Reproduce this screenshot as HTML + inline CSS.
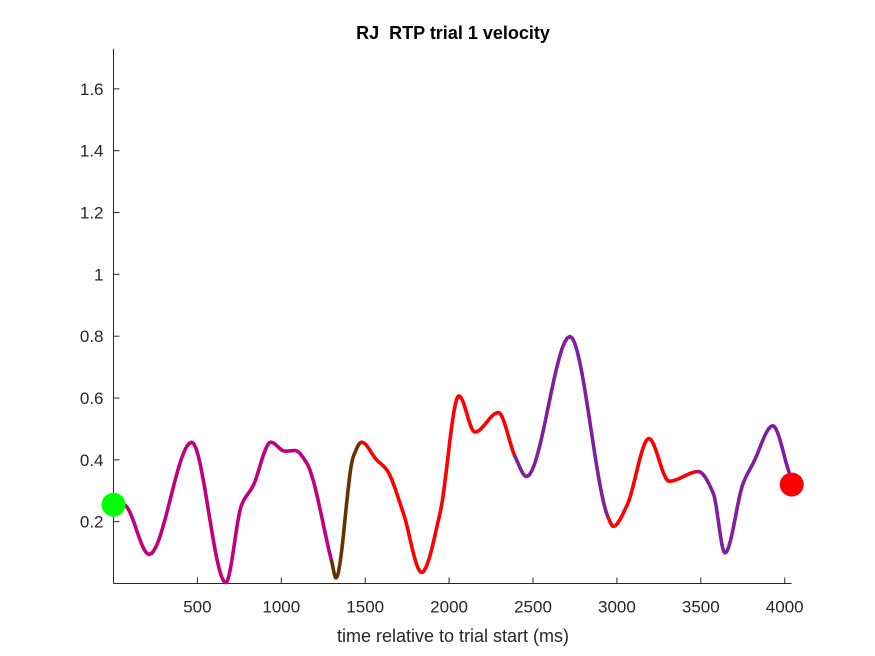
<!DOCTYPE html>
<html><head><meta charset="utf-8"><style>
body{margin:0;background:#fff}
svg{display:block;font-family:"Liberation Sans",sans-serif}
</style></head><body>
<svg id="c" width="875" height="656">
<rect width="875" height="656" fill="#fff"/>
<text x="453" y="39" text-anchor="middle" font-weight="bold" font-size="18" fill="#000" xml:space="preserve">RJ  RTP trial 1 velocity</text>
<text x="453" y="642" text-anchor="middle" font-size="18" fill="#262626">time relative to trial start (ms)</text>
<g id="plot"></g>
</svg>
<script>
const times  = [0,  60, 213, 466, 669, 764, 831, 937, 1022,1082,1151,1300,1326,1429,1479,1568,1628,1727,1836,1946,2058,2154,2293,2393,2462,2720,2949,2979,3058,3191,3311,3485,3574,3644,3753,3813,3929,4027];
const values = [0.255,0.255,0.094,0.457,0.003,0.255,0.315,0.457,0.428,0.43,0.39,0.072,0.018,0.41,0.457,0.40,0.368,0.228,0.036,0.228,0.607,0.49,0.553,0.411,0.346,0.799,0.212,0.185,0.25,0.469,0.331,0.362,0.292,0.099,0.325,0.39,0.51,0.358];
const segStart  = [0, 1300, 1479, 2393, 2949, 3485];
const segColors = ['#C0007F','#663300','#FF0000','#7F1F9F','#FF0000','#7F1F9F'];
const xTicks = [500,1000,1500,2000,2500,3000,3500,4000];
const yTicks = [0.2,0.4,0.6,0.8,1,1.2,1.4,1.6];
const startPoint = [0, 0.255];
const endPoint = [4042, 0.32];

const X0=113.5,X1=791.5,Y0=583.5,Y1=49, xMax=(X1-X0)/0.1678, yMax=1.729;
const sx=t=>X0+t/xMax*(X1-X0);
const sy=v=>Y0-v/yMax*(Y0-Y1);
const NS='http://www.w3.org/2000/svg';
const g=document.getElementById('plot');
function mk(tag,attrs){const e=document.createElementNS(NS,tag);for(const k in attrs)e.setAttribute(k,attrs[k]);g.appendChild(e);return e;}

let e=mk('line',{x1:X0,y1:Y0,x2:X1,y2:Y0,stroke:'#262626','stroke-width':1});


e=mk('line',{x1:X0,y1:Y0,x2:X0,y2:Y1,stroke:'#262626','stroke-width':1});


xTicks.forEach(t=>{
  const x=sx(t);
  let l=mk('line',{x1:x,y1:Y0,x2:x,y2:Y0-6,stroke:'#262626'});
  
  
  let tx=mk('text',{x:x,y:Y0+29,'text-anchor':'middle','font-size':17,fill:'#262626'});
  tx.textContent=t;
  
  
});
yTicks.forEach(v=>{
  const y=sy(v);
  let l=mk('line',{x1:X0,y1:y,x2:X0+6,y2:y,stroke:'#262626'});
  
  
  let tx=mk('text',{x:X0-10,y:y+6,'text-anchor':'end','font-size':17,fill:'#262626'});
  tx.textContent=String(v);
  
  
});

// monotone cubic (Fritsch-Carlson) in data space
const n=times.length, d=[], m=[];
for(let i=0;i<n-1;i++) d.push((values[i+1]-values[i])/(times[i+1]-times[i]));
m[0]=d[0]; m[n-1]=d[n-2];
for(let i=1;i<n-1;i++){
  if(d[i-1]*d[i]<=0) m[i]=0;
  else { const h0=times[i]-times[i-1],h1=times[i+1]-times[i];
    const w1=2*h1+h0,w2=h1+2*h0; m[i]=(w1+w2)/(w1/d[i-1]+w2/d[i]); }
}
const samples=[];
for(let i=0;i<n-1;i++){
  const h=times[i+1]-times[i];
  for(let k=0;k<16;k++){
    const s=k/16,s2=s*s,s3=s2*s;
    const v=(2*s3-3*s2+1)*values[i]+(s3-2*s2+s)*h*m[i]+(-2*s3+3*s2)*values[i+1]+(s3-s2)*h*m[i+1];
    const t=times[i]+s*h;
    samples.push([sx(t),sy(v),t]);
  }
}
samples.push([sx(times[n-1]),sy(values[n-1]),times[n-1]]);
function segOf(t){let s=0;for(let i=0;i<segStart.length;i++)if(t>=segStart[i])s=i;return s;}
let cur=segOf(samples[0][2]),pts=[samples[0]];
function flush(idx,arr){
  const pl=mk('polyline',{points:arr.map(p=>p[0].toFixed(1)+','+p[1].toFixed(1)).join(' '),fill:'none',stroke:segColors[idx],'stroke-width':3.6,'stroke-linejoin':'round','stroke-linecap':'round'});
  
  
}
for(let i=1;i<samples.length;i++){
  const s=segOf(samples[i][2]);
  pts.push(samples[i]);
  if(s!==cur){flush(cur,pts);pts=[samples[i]];cur=s;}
}
flush(cur,pts);

let c=mk('circle',{cx:sx(startPoint[0]),cy:sy(startPoint[1]),r:12,fill:'#00FF00'});


c=mk('circle',{cx:sx(endPoint[0]),cy:sy(endPoint[1]),r:12,fill:'#FF0000'});


</script>
</body></html>
